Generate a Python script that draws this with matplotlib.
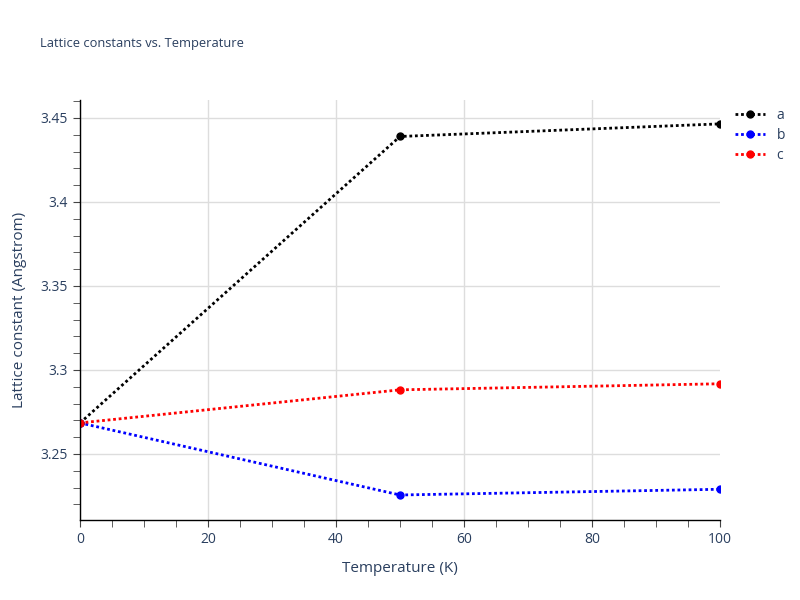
import matplotlib.pyplot as plt
from matplotlib.ticker import MultipleLocator

# Datos
temperatura = [0, 50, 100]
a = [3.2685, 3.4390, 3.4465]
b = [3.2685, 3.2256, 3.2290]
c = [3.2685, 3.2882, 3.2918]

series = [("a", a, "black"), ("b", b, "blue"), ("c", c, "red")]
color_texto = "#2a3f5f"

plt.rcParams["font.family"] = ["Open Sans", "DejaVu Sans"]

fig = plt.figure(figsize=(8, 6), dpi=100)
ax = fig.add_axes([0.1, 0.1333, 0.8, 0.7])

for nombre, valores, color in series:
    ax.plot(temperatura, valores, linestyle=(0, (1, 1)), linewidth=2, color=color,
            marker="o", markersize=5, label=nombre, clip_on=True)

ax.set_xlim(0, 100)
ax.set_ylim(3.2107, 3.4607)
ax.set_xticks([0, 20, 40, 60, 80, 100])
ax.xaxis.set_minor_locator(MultipleLocator(5))
ax.yaxis.set_major_locator(MultipleLocator(0.05))
ax.yaxis.set_minor_locator(MultipleLocator(0.01))
ax.yaxis.set_major_formatter(plt.FuncFormatter(lambda v, p: f"{v:g}"))

ax.grid(True, which="major", color="#dddddd", linewidth=1)
ax.set_axisbelow(True)
# sin linea de grilla en el borde derecho
ax.get_xgridlines()[5].set_visible(False)
for lado in ["top", "right"]:
    ax.spines[lado].set_visible(False)
for lado in ["left", "bottom"]:
    ax.spines[lado].set_color("black")
    ax.spines[lado].set_linewidth(1)

ax.tick_params(which="both", direction="out", colors="#444444", labelcolor=color_texto,
               labelsize=10)
ax.tick_params(which="major", length=5)
ax.tick_params(which="minor", length=5)

ax.set_xlabel("Temperature (K)", fontsize=11, color=color_texto, labelpad=10)
ax.set_ylabel("Lattice constant (Angstrom)", fontsize=11, color=color_texto, labelpad=10)
fig.text(0.05, 0.922, "Lattice constants vs. Temperature", fontsize=9.3, color=color_texto)

ax.legend(loc="upper left", bbox_to_anchor=(1.01, 1.0), frameon=False, fontsize=10,
          labelcolor=color_texto, handlelength=2.2, borderaxespad=0.2, labelspacing=0.35)

plt.savefig("out.png")
